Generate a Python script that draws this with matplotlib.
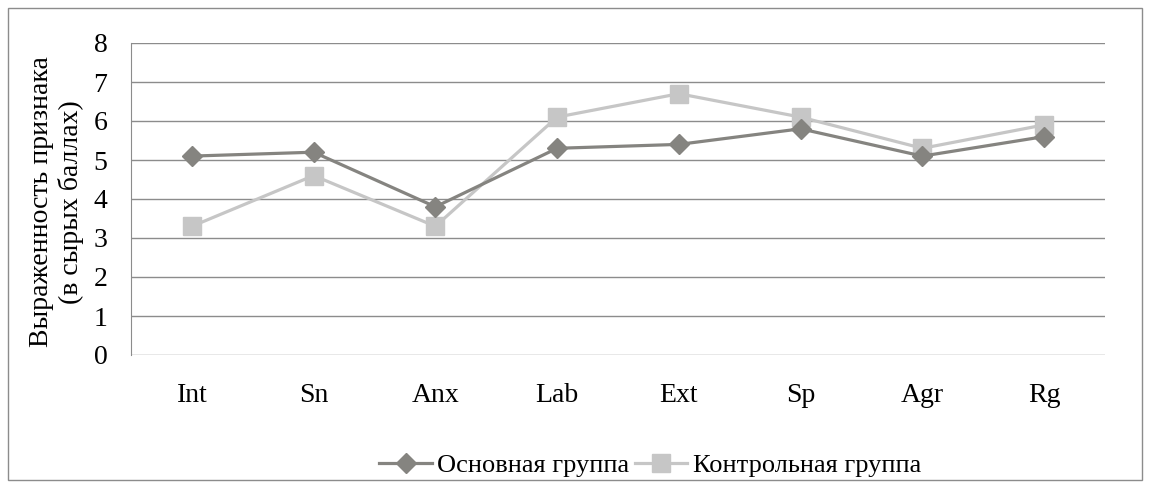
import matplotlib.pyplot as plt
from matplotlib.patches import Rectangle

categories = ['Int', 'Sn', 'Anx', 'Lab', 'Ext', 'Sp', 'Agr', 'Rg']
main_group = [5.1, 5.2, 3.8, 5.3, 5.4, 5.8, 5.1, 5.6]
control_group = [3.3, 4.6, 3.3, 6.1, 6.7, 6.1, 5.3, 5.9]
y_ticks = [0, 1, 2, 3, 4, 5, 6, 7, 8]

plt.rcParams['font.family'] = ['Liberation Serif', 'DejaVu Serif']
FS = 20

W, H = 1150, 488
fig = plt.figure(figsize=(W / 100, H / 100), dpi=100)
ax = fig.add_axes([131 / W, 1 - 355 / H, (1105 - 131) / W, (355 - 43) / H])

x = list(range(len(categories)))
ax.plot(x, main_group, color='#858480', lw=2.3, marker='D', ms=10.5,
        label='Основная группа', zorder=3)
ax.plot(x, control_group, color='#c6c6c6', lw=2.3, marker='s', ms=12.5,
        label='Контрольная группа', zorder=2)

ax.set_xlim(-0.5, len(categories) - 0.5)
ax.set_ylim(0, 8)
ax.set_yticks(y_ticks)
ax.set_xticks(x)
ax.set_xticklabels(categories)
ax.tick_params(axis='both', length=0, labelsize=FS)
ax.tick_params(axis='x', pad=20)
ax.tick_params(axis='y', pad=17)
ax.grid(axis='y', color='#8c8c8c', lw=1)
ax.set_axisbelow(True)
for s in ['top', 'right', 'bottom']:
    ax.spines[s].set_visible(False)
ax.spines['left'].set_color('#8c8c8c')

# y axis title
fig.text(57 / W, 1 - 202 / H, 'Выраженность признака\n(в сырых баллах)',
         rotation=90, ha='center', va='center', fontsize=FS,
         linespacing=1.2, multialignment='center')

fig.legend(loc='center', bbox_to_anchor=(650 / W, 1 - 465 / H), ncol=2,
           frameon=False, fontsize=19, handlelength=2.0, columnspacing=0.2,
           handletextpad=0.2)

fig.patches.append(Rectangle((8 / W, 8 / H), 1134 / W, 472 / H,
                             transform=fig.transFigure, fill=False,
                             edgecolor='#8c8c8c', lw=1))

fig.savefig('out.png', dpi=100)
